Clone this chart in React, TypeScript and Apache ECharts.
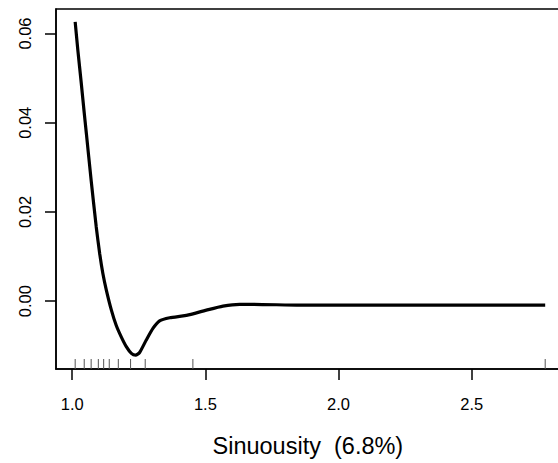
import React, { useEffect, useRef } from "react";
import * as echarts from "echarts";

const curveX = [1.011, 1.021, 1.034, 1.044, 1.053, 1.071, 1.09, 1.103, 1.115, 1.128, 1.147, 1.165, 1.184, 1.203, 1.222, 1.238, 1.253, 1.278, 1.303, 1.328, 1.366, 1.416, 1.441, 1.504, 1.566, 1.629, 1.679, 1.855, 2.0, 2.5, 2.776];
const curveY = [0.0626, 0.0563, 0.0488, 0.0428, 0.0376, 0.0271, 0.0167, 0.0107, 0.0062, 0.0025, -0.002, -0.0054, -0.008, -0.0102, -0.0117, -0.0121, -0.0115, -0.0087, -0.0061, -0.0044, -0.0037, -0.0033, -0.003, -0.002, -0.0011, -0.0007, -0.0007, -0.0009, -0.0009, -0.0009, -0.0009];
const rugX = [1.011, 1.045, 1.071, 1.098, 1.118, 1.139, 1.173, 1.219, 1.274, 1.453, 2.776];
const xTicks = [1.0, 1.5, 2.0, 2.5];
const yTicks = [0.0, 0.02, 0.04, 0.06];
const xTitle = "Sinuousity  (6.8%)";

const FONT = "'Liberation Sans', Arial, Helvetica, sans-serif";

export default function App() {
  const ref = useRef<HTMLDivElement>(null);
  useEffect(() => {
    if (!ref.current) return;
    const chart = echarts.init(ref.current, null, { renderer: "svg" });
    const yMin = -0.0152;
    chart.setOption({
      animation: false,
      backgroundColor: "#ffffff",
      grid: {
        left: 56,
        top: 9,
        bottom: 94,
        right: -29,
        outerBoundsMode: "none",
        containLabel: false,
        show: true,
        borderColor: "#000",
        borderWidth: 1.5,
        backgroundColor: "transparent",
      },
      graphic: [
        {
          type: "text",
          left: 308.5 - 96,
          top: 434,
          style: {
            text: xTitle,
            fill: "#000",
            fontSize: 23.5,
            fontFamily: FONT,
          },
        },
      ],
      xAxis: {
        type: "value",
        min: 0.939,
        max: 2.933,
        splitLine: { show: false },
        axisLine: { show: true, onZero: false, lineStyle: { color: "#000", width: 1.5 } },
        axisTick: { show: true, length: 11, lineStyle: { color: "#000", width: 1.5 }, customValues: xTicks },
        axisLabel: {
          customValues: xTicks,
          formatter: (v: number) => v.toFixed(1),
          color: "#000",
          fontSize: 16.5,
          fontFamily: FONT,
          margin: 26,
        },
      },
      yAxis: {
        type: "value",
        min: yMin,
        max: 0.0655,
        splitLine: { show: false },
        axisLine: { show: true, onZero: false, lineStyle: { color: "#000", width: 1.5 } },
        axisTick: { show: true, length: 11, lineStyle: { color: "#000", width: 1.5 }, customValues: yTicks },
        axisLabel: {
          customValues: yTicks,
          formatter: (v: number) => v.toFixed(2),
          rotate: 90,
          color: "#000",
          fontSize: 16.5,
          fontFamily: FONT,
          margin: 23,
        },
      },
      series: [
        {
          type: "line",
          data: curveX.map((x, i) => [x, curveY[i]]),
          showSymbol: false,
          smooth: 0.2,
          lineStyle: { color: "#000", width: 3.2 },
          z: 3,
        },
        {
          type: "custom",
          data: rugX.map((x) => [x, yMin]),
          renderItem: (params: any, api: any) => {
            const p = api.coord([api.value(0), api.value(1)]);
            return {
              type: "line",
              shape: { x1: p[0], y1: p[1], x2: p[0], y2: p[1] - 10 },
              style: { stroke: "#555", lineWidth: 1 },
            };
          },
          z: 2,
        },
      ],
    });
    return () => chart.dispose();
  }, []);
  return (
    <div
      ref={ref}
      style={{ position: "fixed", left: 0, top: 0, width: 558, height: 463, background: "#fff" }}
    />
  );
}
